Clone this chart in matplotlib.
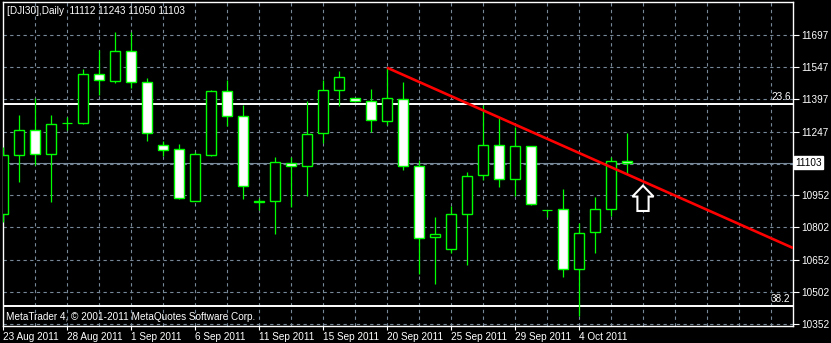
import numpy as np
import matplotlib
matplotlib.use("Agg")
import matplotlib.pyplot as plt
from matplotlib.patches import Polygon

# DJI30 daily bars (open, high, low, close)
opens = [10864, 11137, 11255, 11142, 11286, 11286, 11514, 11481, 11621, 11477,
         11184, 11165, 10926, 11140, 11435, 11319, 10926, 10926, 11100, 11086,
         11240, 11440, 11402, 11388, 11295, 11398, 11087, 10756, 10702, 10863,
         11044, 11185, 11028, 11180, 10882, 10886, 10609, 10779, 10886, 11112]
highs = [11176, 11325, 11402, 11325, 11317, 11539, 11627, 11711, 11711, 11496,
         11205, 11188, 11154, 11441, 11486, 11370, 10937, 11131, 11131, 11390,
         11488, 11529, 11406, 11446, 11545, 11478, 11115, 10851, 10901, 11061,
         11371, 11309, 11270, 11182, 10884, 10979, 10821, 10944, 11131, 11243]
lows = [10827, 11013, 11092, 10921, 11255, 11281, 11418, 11475, 11449, 11205,
        11135, 10934, 10924, 11134, 11274, 10932, 10882, 10770, 10898, 10948,
        11196, 11367, 11387, 11247, 11278, 11069, 10583, 10540, 10682, 10627,
        11022, 10991, 10948, 10908, 10851, 10572, 10389, 10681, 10855, 11050]
closes = [11139, 11255, 11145, 11281, 11286, 11514, 11486, 11621, 11477, 11240,
          11160, 10937, 11142, 11435, 11319, 10994, 10918, 11105, 11086, 11235,
          11440, 11500, 11388, 11300, 11402, 11087, 10751, 10771, 10864, 11041,
          11185, 11025, 11180, 10912, 10882, 10609, 10774, 10886, 11110, 11103]

date_bars = [0, 4, 8, 12, 16, 20, 24, 28, 32, 36]
date_labels = ["23 Aug 2011", "28 Aug 2011", "1 Sep 2011", "6 Sep 2011", "11 Sep 2011",
               "15 Sep 2011", "20 Sep 2011", "25 Sep 2011", "29 Sep 2011", "4 Oct 2011"]

price_ticks = [10352, 10502, 10652, 10802, 10952, 11097, 11247, 11397, 11547, 11697]
price_labels = ["10352", "10502", "10652", "10802", "10952", "", "11247", "11397", "11547", "11697"]

bid = 11103
fib_levels = [11376, 10436]
fib_names = ["23.6", "38.2"]
trend_pts = [(24, 11545), (38, 11082)]
arrow_tip = (40, 10996)

grid_col = "#778899"
font = ["Liberation Sans", "DejaVu Sans"]
fs = 7.2

fig = plt.figure(figsize=(8.31, 3.43), dpi=100, facecolor="black")
ax = fig.add_axes([3/831, 17/343, 790/831, 324/343], facecolor="black")
x0, x1 = 0, 49.375
ax.set_xlim(x0, x1)
ax.set_ylim(10342.7, 11850.6)

# grid
for b in range(2, 50, 2):
    ax.axvline(b, color=grid_col, lw=0.8, dashes=(3, 3), zorder=1)
for p in price_ticks:
    ax.axhline(p, color=grid_col, lw=0.8, dashes=(3, 3), zorder=1)
ax.axhline(bid, color=grid_col, lw=0.8, zorder=1)

# fibo levels
for lv, nm in zip(fib_levels, fib_names):
    ax.axhline(lv, color="white", lw=1.4, zorder=2)
    ax.text(x1 - 0.15, lv + 8, nm, color="white", fontsize=fs, family=font,
            ha="right", va="bottom", zorder=6)

# candles
w = 0.6
for i in range(len(opens)):
    o, h, l, c = opens[i], highs[i], lows[i], closes[i]
    ax.vlines(i, l, h, color="lime", lw=0.9, zorder=3)
    if abs(c - o) < 1:
        ax.hlines(o, i - w/2, i + w/2, color="lime", lw=0.9, zorder=4)
        continue
    fc = "black" if c > o else "white"
    ax.bar(i, abs(c - o), bottom=min(o, c), width=w, color=fc,
           edgecolor="lime", linewidth=1.0, zorder=4)

# trend line (ray to the right)
(tx0, ty0), (tx1, ty1) = trend_pts
slope = (ty1 - ty0) / (tx1 - tx0)
ax.plot([tx0, x1], [ty0, ty0 + slope * (x1 - tx0)], color="red", lw=1.9,
        zorder=5, solid_capstyle="butt")

# hollow up arrow
ax_, ay = arrow_tip
pts = [(ax_, ay), (ax_ + 0.66, ay - 51), (ax_ + 0.35, ay - 51), (ax_ + 0.35, ay - 118),
       (ax_ - 0.35, ay - 118), (ax_ - 0.35, ay - 51), (ax_ - 0.66, ay - 51)]
ax.add_patch(Polygon(pts, closed=True, facecolor="black", edgecolor="white",
                     lw=1.5, zorder=6))

# frame and axes
for s in ax.spines.values():
    s.set_color("white")
    s.set_linewidth(1.0)
ax.yaxis.tick_right()
ax.set_yticks(price_ticks)
ax.set_yticklabels(price_labels)
ax.set_xticks(date_bars)
ax.set_xticklabels(date_labels)
ax.tick_params(axis="y", colors="white", length=4, width=0.8, pad=2, labelsize=fs)
ax.tick_params(axis="x", colors="white", length=3, width=0.8, pad=1, labelsize=fs)
for t in ax.get_xticklabels() + ax.get_yticklabels():
    t.set_family(font)
for t in ax.get_xticklabels():
    t.set_ha("left")

# current price box
ax.text(1.003, bid, "11103", transform=ax.get_yaxis_transform(), color="black",
        fontsize=fs, family=font, va="center", ha="left", zorder=7,
        bbox=dict(boxstyle="square,pad=0.15", facecolor="white", edgecolor="white"))

fig.text(7/831, 1 - 11/343, "[DJI30],Daily  11112 11243 11050 11103", color="white",
         fontsize=fs, family=font, va="center", ha="left")
fig.text(6/831, 1 - 317/343, "MetaTrader 4, \u00a9 2001-2011 MetaQuotes Software Corp.",
         color="white", fontsize=fs, family=font, va="center", ha="left")

fig.savefig("out.png", dpi=100, facecolor="black")
